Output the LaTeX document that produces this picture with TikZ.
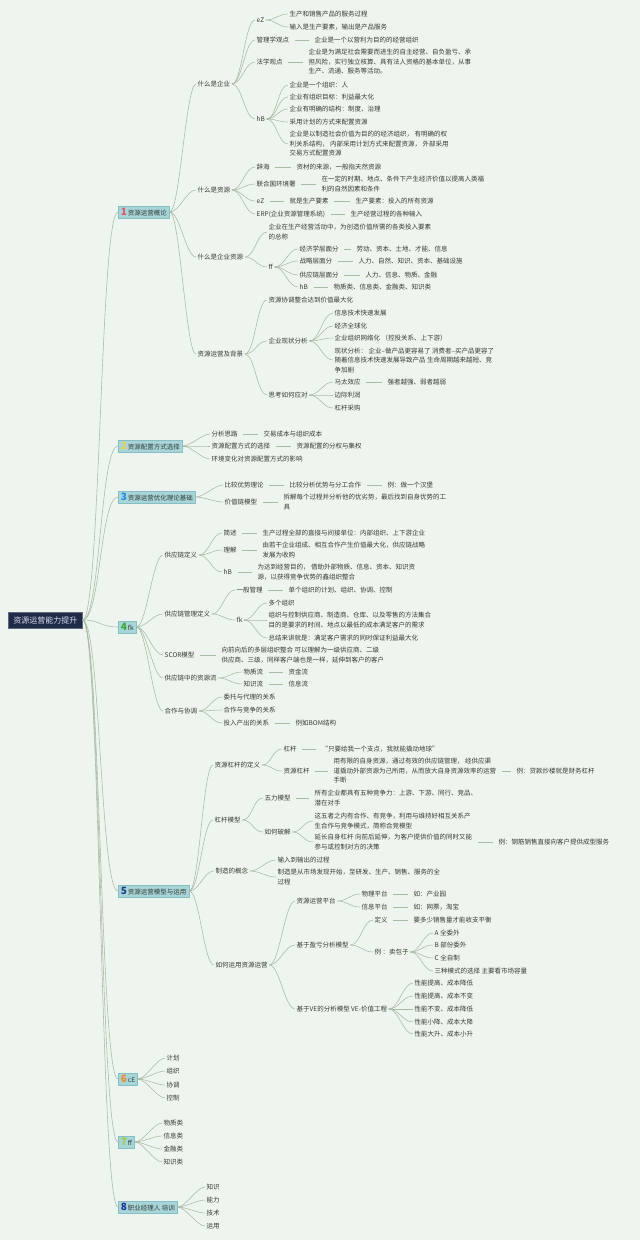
\documentclass[tikz,border=0pt]{standalone}
\usepackage{fontspec}
\setmainfont{Noto Sans CJK SC}
\definecolor{bg}{HTML}{EEF5EE}
\definecolor{txt}{HTML}{363A36}
\definecolor{lc}{HTML}{A6BAA4}
\definecolor{secf}{HTML}{A7D5D8}
\definecolor{secb}{HTML}{86BFC3}
\definecolor{rootf}{HTML}{1F2B47}
\definecolor{roott}{HTML}{DCDDF0}
\definecolor{c1}{HTML}{E8506F}
\definecolor{c2}{HTML}{F0D145}
\definecolor{c3}{HTML}{1F8BE0}
\definecolor{c4}{HTML}{3CA836}
\definecolor{c5}{HTML}{1C3C8E}
\definecolor{c6}{HTML}{F08A26}
\definecolor{c7}{HTML}{A3C83A}
\definecolor{c8}{HTML}{1A2F96}
\newcommand\secnum[2]{{\fontsize{10}{10}\selectfont\bfseries\color{#1}#2}\,}
\newcommand\mmcurve[3][10]{\draw[conn] (#2.east) .. controls +(#1,0) and +(-#1,0) .. (#3.west);}
\newcommand\mmline[2]{\draw[conn,shorten <=4pt,shorten >=4pt] (#1.east) -- (#2.west);}
\begin{document}
\begin{tikzpicture}[x=1pt,y=-1pt,
  t/.style={anchor=west,inner sep=1.5pt,align=left,text=txt,font=\fontsize{6.5}{9.5}\selectfont},
  sec/.style={anchor=west,draw=secb,fill=secf,line width=0.6pt,inner xsep=2.5pt,inner ysep=1pt,minimum height=12pt,text=txt,font=\fontsize{6.5}{8}\selectfont},
  rootbox/.style={anchor=west,draw=rootf!70!white,fill=rootf,line width=0.6pt,inner xsep=5pt,minimum height=16pt,text=roott,font=\fontsize{8}{9}\selectfont},
  conn/.style={draw=lc,line width=0.55pt}]
\useasboundingbox (0,0) rectangle (640,1240);
\fill[bg] (0,0) rectangle (640,1240);

% root and sections
\node[rootbox] (r) at (8,620) {资源运营能力提升};
\node[sec] (s1) at (118,212) {\secnum{c1}{1}资源运营概论};
\node[sec] (s2) at (118,446) {\secnum{c2}{2}资源配置方式选择};
\node[sec] (s3) at (118,497) {\secnum{c3}{3}资源运营优化理论基础};
\node[sec] (s4) at (118,627) {\secnum{c4}{4}fk};
\node[sec] (s5) at (118,891) {\secnum{c5}{5}资源运营模型与运用};
\node[sec] (s6) at (118,1079) {\secnum{c6}{6}cE};
\node[sec] (s7) at (118,1142) {\secnum{c7}{7}ff};
\node[sec] (s8) at (118,1207) {\secnum{c8}{8}职业经理人 培训};
\foreach \s in {s1,s2,s3,s4,s5,s6,s7,s8}{\mmcurve[18]{r}{\s}}

% ---------- section 1
\node[t] (a) at (196,84) {什么是企业};
\node[t] (b) at (196,190) {什么是资源};
\node[t] (c) at (196,257) {什么是企业资源};
\node[t] (d) at (196,354) {资源运营及背景};
\foreach \n in {a,b,c,d}{\mmcurve{s1}{\n}}

\node[t] (a1) at (255,20) {eZ};
\node[t] (a11) at (288,14) {生产和销售产品的服务过程};
\node[t] (a12) at (288,27) {输入是生产要素，输出是产品服务};
\node[t] (a2) at (255,40) {管理学观点};
\node[t] (a21) at (313,40) {企业是一个以营利为目的的经营组织};
\node[t] (a3) at (255,62) {法学观点};
\node[t] (a31) at (307,62) {企业是为满足社会需要而进生的自主经营、自负盈亏、承\\担风险，实行独立核算、具有法人资格的基本单位，从事\\生产、流通、服务等活动。};
\node[t] (a4) at (255,119) {hB};
\node[t] (a41) at (288,85) {企业是一个组织：人};
\node[t] (a42) at (288,97) {企业有组织目标：利益最大化};
\node[t] (a43) at (288,109) {企业有明确的结构：制度、治理};
\node[t] (a44) at (288,122) {采用计划的方式来配置资源};
\node[t] (a45) at (288,144) {企业是以制造社会价值为目的的经济组织， 有明确的权\\利关系结构， 内部采用计划方式来配置资源， 外部采用\\交易方式配置资源};
\foreach \n in {a1,a2,a3,a4}{\mmcurve{a}{\n}}
\mmcurve{a1}{a11}\mmcurve{a1}{a12}
\mmline{a2}{a21}\mmline{a3}{a31}
\foreach \n in {a41,a42,a43,a44,a45}{\mmcurve{a4}{\n}}

\node[t] (b1) at (255,167) {辞海};
\node[t] (b11) at (295,167) {资材的来源，一般指天然资源};
\node[t] (b2) at (255,184) {联合国环境署};
\node[t] (b21) at (320,184) {在一定的时期、地点、条件下产生经济价值以提高人类福\\利的自然因素和条件};
\node[t] (b3) at (255,201) {eZ};
\node[t] (b31) at (288,201) {就是生产要素};
\node[t] (b32) at (354,201) {生产要素：投入的所有资源};
\node[t] (b4) at (255,214) {ERP(企业资源管理系统)};
\node[t] (b41) at (349,214) {生产经营过程的各种输入};
\foreach \n in {b1,b2,b3,b4}{\mmcurve{b}{\n}}
\mmline{b1}{b11}\mmline{b2}{b21}\mmline{b3}{b31}\mmline{b31}{b32}\mmline{b4}{b41}

\node[t] (c1) at (267,232) {企业在生产经营活动中，为创造价值所需的各类投入要素\\的总称};
\node[t] (c2) at (267,267) {ff};
\node[t] (c21) at (298,249) {经济学层面分};
\node[t] (c211) at (355,249) {劳动、资本、土地、才能、信息};
\node[t] (c22) at (298,261) {战略层面分};
\node[t] (c221) at (357,261) {人力、自然、知识、资本、基础设施};
\node[t] (c23) at (298,275) {供应链层面分};
\node[t] (c231) at (364,275) {人力、信息、物质、金融};
\node[t] (c24) at (298,287) {hB};
\node[t] (c241) at (332,287) {物质类、信息类、金融类、知识类};
\mmcurve{c}{c1}\mmcurve{c}{c2}
\foreach \n in {c21,c22,c23,c24}{\mmcurve{c2}{\n}}
\mmline{c21}{c211}\mmline{c22}{c221}\mmline{c23}{c231}\mmline{c24}{c241}

\node[t] (d1) at (267,300) {资源协调整合达到价值最大化};
\node[t] (d2) at (267,341) {企业现状分析};
\node[t] (d21) at (333,313) {信息技术快速发展};
\node[t] (d22) at (333,326) {经济全球化};
\node[t] (d23) at (333,338) {企业组织网络化 （控投关系、上下游）};
\node[t] (d24) at (333,360) {现状分析： 企业--做产品更容易了 消费者--买产品更容了\\随着信息技术快速发展导致产品 生命周期越来越短、竞\\争加剧};
\node[t] (d3) at (267,395) {思考如何应对};
\node[t] (d31) at (333,382) {马太效应};
\node[t] (d311) at (386,382) {强者越强、弱者越弱};
\node[t] (d32) at (333,395) {边际利润};
\node[t] (d33) at (333,408) {杠杆采购};
\foreach \n in {d1,d2,d3}{\mmcurve{d}{\n}}
\foreach \n in {d21,d22,d23,d24}{\mmcurve{d2}{\n}}
\foreach \n in {d31,d32,d33}{\mmcurve{d3}{\n}}
\mmline{d31}{d311}

% ---------- section 2
\node[t] (e1) at (210,434) {分析思路};
\node[t] (e11) at (262,434) {交易成本与组织成本};
\node[t] (e2) at (210,446) {资源配置方式的选择};
\node[t] (e21) at (295,446) {资源配置的分权与集权};
\node[t] (e3) at (210,459) {环境变化对资源配置方式的影响};
\foreach \n in {e1,e2,e3}{\mmcurve[8]{s2}{\n}}
\mmline{e1}{e11}\mmline{e2}{e21}

% ---------- section 3
\node[t] (f1) at (223,485) {比较优势理论};
\node[t] (f11) at (288,485) {比较分析优势与分工合作};
\node[t] (f111) at (386,485) {例：做一个汉堡};
\node[t] (f2) at (223,502) {价值链模型};
\node[t] (f21) at (282,502) {拆解每个过程并分析他的优劣势，最后找到自身优势的工\\具};
\foreach \n in {f1,f2}{\mmcurve[8]{s3}{\n}}
\mmline{f1}{f11}\mmline{f11}{f111}\mmline{f2}{f21}

% ---------- section 4
\node[t] (g1) at (163,555) {供应链定义};
\node[t] (g11) at (222,533) {简述};
\node[t] (g111) at (261,533) {生产过程全部的直接与间接单位：内部组织、上下游企业};
\node[t] (g12) at (222,550) {理解};
\node[t] (g121) at (261,550) {由若干企业组成、相互合作产生价值最大化，供应链战略\\发展为收购};
\node[t] (g13) at (222,572) {hB};
\node[t] (g131) at (256,572) {为达到经营目的， 借助外部物质、信息、资本、知识资\\源，以获得竞争优势的鑫组织整合};
\node[t] (g2) at (163,614) {供应链管理定义};
\node[t] (g21) at (235,590) {一般管理};
\node[t] (g211) at (287,590) {单个组织的计划、组织、协调、控制};
\node[t] (g22) at (235,620) {fk};
\node[t] (g221) at (267,603) {多个组织};
\node[t] (g222) at (267,620) {组织与控制供应商、制造商、仓库、以及零售的方法集合\\目的是要求的时间、地点以最低的成本满足客户的需求};
\node[t] (g223) at (267,638) {总结来讲就是：满足客户需求的同时保证利益最大化};
\node[t] (g3) at (163,655) {SCOR模型};
\node[t] (g31) at (220,655) {向前向后的多层组织整合 可以理解为一级供应商、二级\\供应商、三级，同样客户端也是一样，延伸到客户的客户};
\node[t] (g4) at (163,678) {供应链中的资源流};
\node[t] (g41) at (242,672) {物质流};
\node[t] (g411) at (287,672) {资金流};
\node[t] (g42) at (242,684) {知识流};
\node[t] (g421) at (287,684) {信息流};
\node[t] (g5) at (163,711) {合作与协调};
\node[t] (g51) at (222,697) {委托与代理的关系};
\node[t] (g52) at (222,710) {合作与竞争的关系};
\node[t] (g53) at (222,723) {投入产出的关系};
\node[t] (g531) at (294,723) {例如BOM结构};
\foreach \n in {g1,g2,g3,g4,g5}{\mmcurve{s4}{\n}}
\foreach \n in {g11,g12,g13}{\mmcurve{g1}{\n}}
\mmline{g11}{g111}\mmline{g12}{g121}\mmline{g13}{g131}
\mmcurve{g2}{g21}\mmcurve{g2}{g22}\mmline{g21}{g211}
\foreach \n in {g221,g222,g223}{\mmcurve{g22}{\n}}
\mmline{g3}{g31}
\mmcurve{g4}{g41}\mmcurve{g4}{g42}\mmline{g41}{g411}\mmline{g42}{g421}
\foreach \n in {g51,g52,g53}{\mmcurve{g5}{\n}}
\mmline{g53}{g531}

% ---------- section 5
\node[t] (h1) at (213,765) {资源杠杆的定义};
\node[t] (h11) at (282,749) {杠杆};
\node[t] (h111) at (320,749) {“只要给我一个支点，我就能撬动地球”};
\node[t] (h12) at (282,771) {资源杠杆};
\node[t] (h121) at (332,771) {用有限的自身资源，通过有效的供应链管理， 经供应渠\\道撬动外部资源为己所用，从而放大自身资源效率的运营\\手断};
\node[t] (h1211) at (515,771) {例：贷款炒楼就是财务杠杆};
\node[t] (h2) at (213,820) {杠杆模型};
\node[t] (h21) at (263,798) {五力模型};
\node[t] (h211) at (313,798) {所有企业都具有五种竞争力：上游、下游、同行、竞品、\\潜在对手};
\node[t] (h22) at (263,832) {如何破解};
\node[t] (h221) at (313,821) {这五者之内有合作、有竞争，利用与维持好相互关系产\\生合作与竞争模式，简称合竞模型};
\node[t] (h222) at (313,842) {延长自身杠杆 向前后延伸，为客户提供价值的同时又能\\参与或控制对方的决策};
\node[t] (h2221) at (497,842) {例：钢筋销售直接向客户提供成型服务};
\node[t] (h3) at (214,871) {制造的概念};
\node[t] (h31) at (276,860) {输入到输出的过程};
\node[t] (h32) at (276,877) {制造是从市场发现开始，至研发、生产、销售、服务的全\\过程};
\node[t] (h4) at (214,965) {如何运用资源运营};
\node[t] (h41) at (295,901) {资源运营平台};
\node[t] (h411) at (360,894) {物理平台};
\node[t] (h4111) at (412,894) {如：产业园};
\node[t] (h412) at (360,907) {信息平台};
\node[t] (h4121) at (412,907) {如：网票，淘宝};
\node[t] (h42) at (295,945) {基于盈亏分析模型};
\node[t] (h421) at (373,920) {定义};
\node[t] (h4211) at (412,920) {要多少销售量才能收支平衡};
\node[t] (h422) at (373,952) {例 ：卖包子};
\node[t] (k1) at (433,933) {A 全委外};
\node[t] (k2) at (433,945) {B 部份委外};
\node[t] (k3) at (433,958) {C 全自制};
\node[t] (k4) at (433,971) {三种模式的选择 主要看市场容量};
\node[t] (h43) at (295,1009) {基于VE的分析模型 VE-价值工程};
\node[t] (v1) at (413,983) {性能提高、成本降低};
\node[t] (v2) at (413,996) {性能提高、成本不变};
\node[t] (v3) at (413,1009) {性能不变、成本降低};
\node[t] (v4) at (413,1022) {性能小降、成本大降};
\node[t] (v5) at (413,1034) {性能大升、成本小升};
\foreach \n in {h1,h2,h3,h4}{\mmcurve{s5}{\n}}
\mmcurve{h1}{h11}\mmcurve{h1}{h12}\mmline{h11}{h111}\mmline{h12}{h121}\mmline{h121}{h1211}
\mmcurve{h2}{h21}\mmcurve{h2}{h22}\mmline{h21}{h211}
\mmcurve{h22}{h221}\mmcurve{h22}{h222}\mmline{h222}{h2221}
\mmcurve{h3}{h31}\mmcurve{h3}{h32}
\foreach \n in {h41,h42,h43}{\mmcurve{h4}{\n}}
\mmcurve{h41}{h411}\mmcurve{h41}{h412}\mmline{h411}{h4111}\mmline{h412}{h4121}
\mmcurve{h42}{h421}\mmcurve{h42}{h422}\mmline{h421}{h4211}
\foreach \n in {k1,k2,k3,k4}{\mmcurve{h422}{\n}}
\foreach \n in {v1,v2,v3,v4,v5}{\mmcurve{h43}{\n}}

% ---------- section 6
\node[t] (m1) at (165,1058) {计划};
\node[t] (m2) at (165,1071) {组织};
\node[t] (m3) at (165,1085) {协调};
\node[t] (m4) at (165,1098) {控制};
\foreach \n in {m1,m2,m3,m4}{\mmcurve[8]{s6}{\n}}

% ---------- section 7
\node[t] (p1) at (162,1123) {物质类};
\node[t] (p2) at (162,1136) {信息类};
\node[t] (p3) at (162,1149) {金融类};
\node[t] (p4) at (162,1162) {知识类};
\foreach \n in {p1,p2,p3,p4}{\mmcurve[8]{s7}{\n}}

% ---------- section 8
\node[t] (q1) at (205,1187) {知识};
\node[t] (q2) at (205,1200) {能力};
\node[t] (q3) at (205,1213) {技术};
\node[t] (q4) at (205,1226) {运用};
\foreach \n in {q1,q2,q3,q4}{\mmcurve[8]{s8}{\n}}
\end{tikzpicture}
\end{document}
